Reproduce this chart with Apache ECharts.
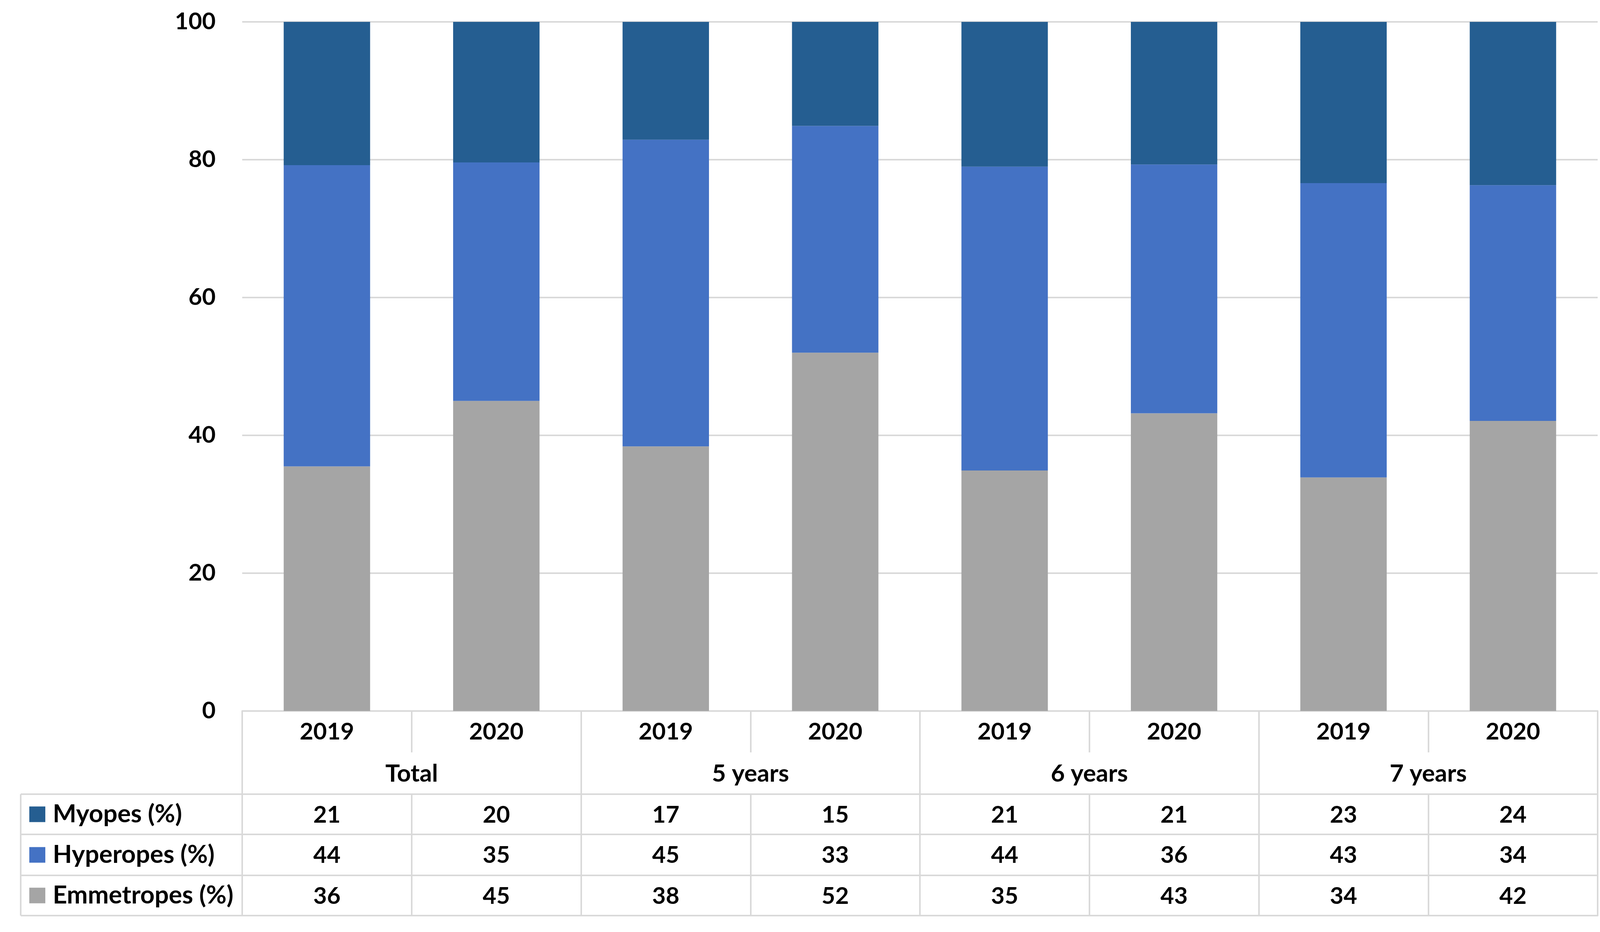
<!DOCTYPE html>
<html>
<head>
<meta charset="utf-8">
<script src="https://cdn.jsdelivr.net/npm/echarts@6/dist/echarts.min.js"></script>
<style>
html,body{margin:0;padding:0;background:#fff;}
#chart{width:4146px;height:2387px;}
</style>
</head>
<body>
<div id="chart"></div>
<script>
// ---- data ----
const years = ['2019', '2020', '2019', '2020', '2019', '2020', '2019', '2020'];
const groups = ['Total', '5 years', '6 years', '7 years'];
const seriesNames = ['Myopes (%)', 'Hyperopes (%)', 'Emmetropes (%)'];
// bar heights (%)
const emmetropes = [35.5, 45.0, 38.4, 52.0, 34.9, 43.2, 33.9, 42.1];
const hyperopes  = [43.7, 34.6, 44.5, 32.9, 44.1, 36.1, 42.7, 34.2];
const myopes     = [20.8, 20.4, 17.1, 15.1, 21.0, 20.7, 23.4, 23.7];
// table values as printed
const myopesTable     = ['21', '20', '17', '15', '21', '21', '23', '24'];
const hyperopesTable  = ['44', '35', '45', '33', '44', '36', '43', '34'];
const emmetropesTable = ['36', '45', '38', '52', '35', '43', '34', '42'];
const yTicks = [0, 20, 40, 60, 80, 100];

// ---- layout ----
const W = 4146, H = 2387;
const gLeft = 620, gRight = 4090, gTop = 56, gBottom = 1821;
const rowLines = [2034, 2137, 2242, 2345];
const tableLeft = 53;
const lineColor = '#d9d9d9';
const lw = 4;
const font = 'Lato, "Open Sans", sans-serif';
const fs = 60;
const colors = { my: '#255E91', hy: '#4472C4', em: '#A5A5A5' };

const chart = echarts.init(document.getElementById('chart'), null, { renderer: 'canvas' });

const labelBase = { fontFamily: font, fontSize: fs, fontWeight: 'bold', color: '#000', lineHeight: fs };
const lineSt = { color: lineColor, width: lw };

function rowAxis(rowIdx, values) {
  return {
    type: 'category', gridIndex: 0, position: 'bottom', offset: rowLines[rowIdx] - gBottom,
    data: years,
    axisLine: { show: true, onZero: false, lineStyle: lineSt },
    axisTick: { show: true, interval: 0, length: rowLines[rowIdx + 1] - rowLines[rowIdx], lineStyle: lineSt },
    axisLabel: Object.assign({ interval: 0, margin: 24, formatter: (v, i) => values[i] }, labelBase),
    splitLine: { show: false }
  };
}

function rowLegend(name, rowIdx) {
  const center = (rowLines[rowIdx] + rowLines[rowIdx + 1]) / 2;
  return {
    orient: 'horizontal', left: 70, top: center - 37,
    data: [name],
    itemWidth: 41, itemHeight: 40, icon: 'rect', itemGap: 0,
    textStyle: { fontFamily: font, fontSize: 64, fontWeight: 'bold', color: '#000', lineHeight: 64, padding: [0, 0, 0, 14] },
    selectedMode: false
  };
}

const option = {
  backgroundColor: '#fff',
  animation: false,
  color: [colors.em, colors.hy, colors.my],
  grid: { left: gLeft, right: W - gRight, top: gTop, bottom: H - gBottom, containLabel: false },
  legend: [
    rowLegend(seriesNames[0], 0),
    rowLegend(seriesNames[1], 1),
    rowLegend(seriesNames[2], 2)
  ],
  xAxis: [
    {
      type: 'category', gridIndex: 0, position: 'bottom', offset: 0,
      data: years,
      axisLine: { show: true, onZero: false, lineStyle: lineSt },
      axisTick: { show: true, interval: 0, length: 106, lineStyle: lineSt },
      axisLabel: Object.assign({ interval: 0, margin: 24 }, labelBase),
      splitLine: { show: false }
    },
    {
      type: 'category', gridIndex: 0, position: 'bottom', offset: 0,
      data: groups,
      axisLine: { show: false, onZero: false },
      axisTick: { show: true, interval: 0, length: rowLines[0] - gBottom, lineStyle: lineSt },
      axisLabel: Object.assign({}, labelBase, { interval: 0, margin: 130, fontSize: 62, lineHeight: 62 }),
      splitLine: { show: false }
    },
    rowAxis(0, myopesTable),
    rowAxis(1, hyperopesTable),
    rowAxis(2, emmetropesTable),
    {
      type: 'category', gridIndex: 0, position: 'bottom', offset: rowLines[3] - gBottom,
      data: years,
      axisLine: { show: true, onZero: false, lineStyle: lineSt },
      axisTick: { show: false }, axisLabel: { show: false }, splitLine: { show: false }
    }
  ],
  yAxis: {
    type: 'value', min: 0, max: 100, interval: 20,
    axisLine: { show: false }, axisTick: { show: false },
    axisLabel: Object.assign({ margin: 68, formatter: v => String(v) }, labelBase),
    splitLine: { show: true, lineStyle: lineSt }
  },
  series: [
    { name: seriesNames[2], type: 'bar', stack: 'all', xAxisIndex: 0, barWidth: '51%', data: emmetropes, itemStyle: { color: colors.em } },
    { name: seriesNames[1], type: 'bar', stack: 'all', xAxisIndex: 0, barWidth: '51%', data: hyperopes, itemStyle: { color: colors.hy } },
    { name: seriesNames[0], type: 'bar', stack: 'all', xAxisIndex: 0, barWidth: '51%', data: myopes, itemStyle: { color: colors.my } }
  ],
  graphic: [].concat(
    rowLines.map(y => ({ type: 'line', shape: { x1: tableLeft, y1: y, x2: gLeft, y2: y }, style: { stroke: lineColor, lineWidth: lw }, silent: true })),
    [{ type: 'line', shape: { x1: tableLeft, y1: rowLines[0], x2: tableLeft, y2: rowLines[3] }, style: { stroke: lineColor, lineWidth: lw }, silent: true }]
  )
};

chart.setOption(option);
</script>
</body>
</html>
